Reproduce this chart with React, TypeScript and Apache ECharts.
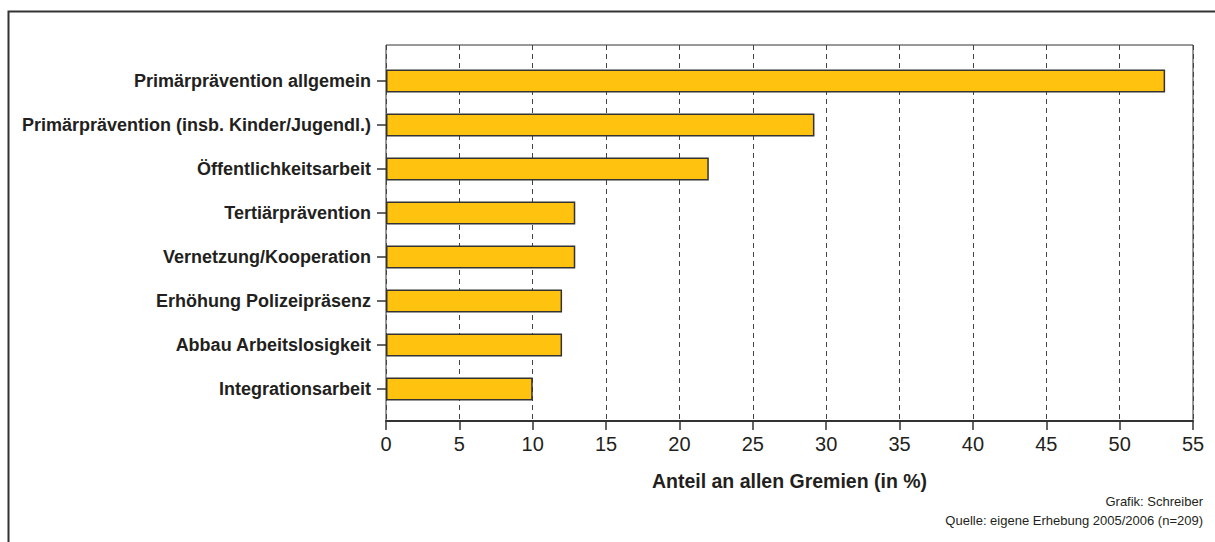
import React, { useEffect, useRef } from "react";
import * as echarts from "echarts";

const categories = [
  "Primärprävention allgemein",
  "Primärprävention (insb. Kinder/Jugendl.)",
  "Öffentlichkeitsarbeit",
  "Tertiärprävention",
  "Vernetzung/Kooperation",
  "Erhöhung Polizeipräsenz",
  "Abbau Arbeitslosigkeit",
  "Integrationsarbeit",
];
const shares = [53.1, 29.2, 22.0, 12.9, 12.9, 12.0, 12.0, 10.0];
const axisTitle = "Anteil an allen Gremien (in %)";
const creditLine = "Grafik: Schreiber";
const sourceLine = "Quelle: eigene Erhebung 2005/2006 (n=209)";

const SANS = '"Liberation Sans", Arial, sans-serif';
const INK = "#231f20";

export default function App() {
  const ref = useRef<HTMLDivElement>(null);
  useEffect(() => {
    if (!ref.current) return;
    const chart = echarts.init(ref.current, undefined, { renderer: "svg" });
    chart.setOption({
      animation: false,
      backgroundColor: "#ffffff",
      grid: [
        { left: 386, right: 22, top: 45, bottom: 121, show: true, borderColor: "#333", borderWidth: 1, backgroundColor: "transparent", containLabel: false, outerBoundsMode: "none" },
        { left: 386, right: 22, top: 59, bottom: 131, containLabel: false, outerBoundsMode: "none" },
      ],
      xAxis: [
        {
          type: "value",
          gridIndex: 0,
          min: 0,
          max: 55,
          interval: 5,
          axisLine: { show: true, lineStyle: { color: "#333", width: 2 } },
          axisTick: { show: true, length: 9, lineStyle: { color: "#333", width: 1.5 } },
          axisLabel: { color: INK, fontFamily: SANS, fontSize: 20, margin: 13 },
          splitLine: { show: true, lineStyle: { color: "#444", type: [5, 4], width: 1 } },
          name: axisTitle,
          nameLocation: "middle",
          nameGap: 50,
          nameTextStyle: { color: INK, fontFamily: SANS, fontWeight: "bold", fontSize: 19.5 },
        },
        { type: "value", gridIndex: 1, min: 0, max: 55, show: false },
      ],
      yAxis: [
        { type: "value", gridIndex: 0, show: false, min: 0, max: 1, splitLine: { show: false } },
        {
          type: "category",
          gridIndex: 1,
          inverse: true,
          data: categories,
          axisLine: { show: false },
          axisTick: { show: true, alignWithLabel: true, length: 9, lineStyle: { color: "#333", width: 1.5 } },
          axisLabel: { color: INK, fontFamily: SANS, fontWeight: "bold", fontSize: 18, margin: 15 },
        },
      ],
      series: [
        {
          type: "bar",
          xAxisIndex: 1,
          yAxisIndex: 1,
          data: shares,
          barWidth: 23,
          itemStyle: { color: "#FFC20E", borderColor: "#333", borderWidth: 1.5 },
        },
      ],
      graphic: [
        { type: "rect", left: 6, top: 9, shape: { x: 0, y: 0, width: 1230, height: 560 }, style: { fill: "none", stroke: "#333", lineWidth: 2 }, silent: true },
        { type: "text", right: 12, top: 495, style: { text: creditLine, fill: INK, font: `13px ${SANS}`, textAlign: "right" } },
        { type: "text", right: 12, top: 514, style: { text: sourceLine, fill: INK, font: `13px ${SANS}`, textAlign: "right" } },
      ],
    });
    return () => chart.dispose();
  }, []);
  return <div ref={ref} style={{ position: "fixed", left: 0, top: 0, width: 1215, height: 542 }} />;
}
